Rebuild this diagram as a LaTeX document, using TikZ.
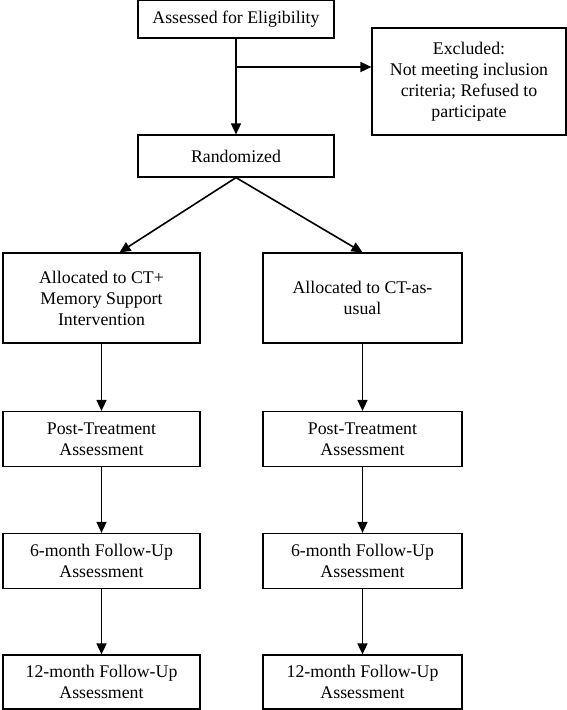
\documentclass[tikz,border=0pt]{standalone}
\usepackage{fontspec}
\setmainfont{Liberation Serif}
\usetikzlibrary{arrows.meta}

\tikzset{
  box/.style={draw, line width=1.2pt, align=center, inner sep=0pt,
    font=\fontsize{17.8}{21}\selectfont},
  arr/.style={line width=1.6pt, -{Triangle[length=11pt,width=10pt]}}
}

\begin{document}
\begin{tikzpicture}[x=1pt,y=1pt]
    \useasboundingbox (0,0) rectangle (567,-710);

    % top part
    \node [box, minimum width=196pt, minimum height=38pt] (assess) at (236,-19) {Assessed for Eligibility};
    \node [box, minimum width=194pt, minimum height=107pt] (excl) at (469,-81.5)
        {Excluded:\\Not meeting inclusion\\criteria; Refused to\\participate};
    \node [box, minimum width=196pt, minimum height=42pt] (rand) at (236,-156) {Randomized};

    % allocation
    \node [box, minimum width=197pt, minimum height=90pt] (allocA) at (101.5,-298)
        {Allocated to CT+\\Memory Support\\Intervention};
    \node [box, minimum width=199pt, minimum height=90pt] (allocB) at (362.5,-298)
        {Allocated to CT-as-\\usual};

    % left arm
    \node [box, minimum width=197pt, minimum height=55pt] (postA) at (101.5,-439) {Post-Treatment\\Assessment};
    \node [box, minimum width=197pt, minimum height=55pt] (sixA) at (101.5,-561) {6-month Follow-Up\\Assessment};
    \node [box, minimum width=197pt, minimum height=54pt] (twelveA) at (101.5,-682) {12-month Follow-Up\\Assessment};

    % right arm
    \node [box, minimum width=199pt, minimum height=55pt] (postB) at (362.5,-439) {Post-Treatment\\Assessment};
    \node [box, minimum width=199pt, minimum height=55pt] (sixB) at (362.5,-561) {6-month Follow-Up\\Assessment};
    \node [box, minimum width=199pt, minimum height=54pt] (twelveB) at (362.5,-682) {12-month Follow-Up\\Assessment};

    \coordinate (split) at (236,-67);

     \draw [arr] (assess) -- (rand);
     \draw [arr] (split) -- (split -| excl.west);

     \draw [arr] (rand.south) -- ([xshift=18pt]allocA.north);
     \draw [arr] (rand.south) -- (allocB.north);

     \draw [arr] (allocA) -- (postA);
     \draw [arr] (postA) -- (sixA);
     \draw [arr] (sixA) -- (twelveA);

     \draw [arr] (allocB) -- (postB);
     \draw [arr] (postB) -- (sixB);
     \draw [arr] (sixB) -- (twelveB);

  \end{tikzpicture}
\end{document}
